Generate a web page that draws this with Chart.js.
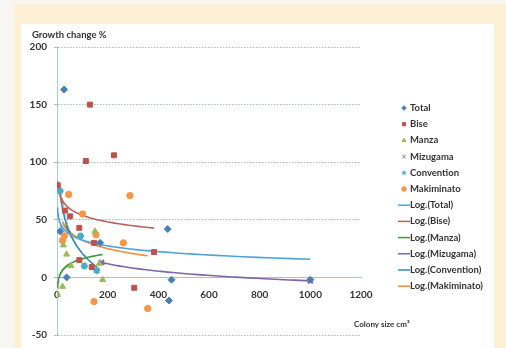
<!DOCTYPE html>
<html>
<head>
<meta charset="utf-8">
<script src="https://cdn.jsdelivr.net/npm/chart.js@4.4.0/dist/chart.umd.min.js"></script>
<style>
  html, body { margin: 0; padding: 0; }
  body { width: 506px; height: 348px; background: #f8f6f0; position: relative; overflow: hidden; }
  #frame { position: absolute; left: 14px; top: 4px; right: 0; bottom: 0; background: #fdf0d4; }
  #panel { position: absolute; left: 21px; top: 24px; width: 473px; bottom: 0; background: #fff; }
  #wrap { position: absolute; left: 0; top: 0; width: 506px; height: 348px; }
</style>
</head>
<body>
<div id="frame"></div>
<div id="panel"></div>
<div id="wrap"><canvas id="chart"></canvas></div>
<script>
// --- data ---
const seriesNames = ['Total', 'Bise', 'Manza', 'Mizugama', 'Convention', 'Makiminato'];

const totalX = [28, 12, 437, 170, 38, 452, 442, 1000];
const totalY = [163, 40, 42, 30, 0, -2, -20, -2];

const biseX = [3, 31, 51, 88, 114, 130, 225, 146, 383, 88, 137, 305];
const biseY = [80, 58, 53, 43, 101, 150, 106, 30, 22, 15, 9, -9];

const manzaX = [150, 25, 38, 55, 22, 180, 2, 167];
const manzaY = [40, 28, 20, 10, -8, -2, -15, 12];

const mizugamaX = [176, 1000];
const mizugamaY = [13, -3];

const conventionX = [12, 93, 108, 157];
const conventionY = [75, 36, 10, 6];

const makiminatoX = [46, 101, 288, 154, 29, 22, 262, 146, 358];
const makiminatoY = [72, 55, 71, 37, 36, 32, 30, -21, -27];

const xTicks = [0, 200, 400, 600, 800, 1000, 1200];
const yTicks = [-50, 0, 50, 100, 150, 200];

// styles
const pointColors = ['#4a7ebb', '#c0504d', '#9bbb59', '#8064a2', '#4bacc6', '#f79646'];
const pointStyles = ['rectRot', 'rect', 'triangle', 'crossRot', 'star', 'circle'];
const trendColors = ['#4ea3dc', '#b8625f', '#3f9a3f', '#7d66aa', '#2f8db5', '#f28e3a'];

const allX = totalX.concat(biseX, manzaX, mizugamaX, conventionX, makiminatoX);
const allY = totalY.concat(biseY, manzaY, mizugamaY, conventionY, makiminatoY);

// logarithmic least-squares trend, like the spreadsheet's Log. trendline
function logFit(xs, ys) {
    const lx = xs.map(Math.log);
    const n = xs.length;
    const mx = lx.reduce((a, b) => a + b, 0) / n;
    const my = ys.reduce((a, b) => a + b, 0) / n;
    let sxy = 0, sxx = 0;
    lx.forEach((v, i) => { sxy += (v - mx) * (ys[i] - my); sxx += (v - mx) * (v - mx); });
    const b = sxy / sxx;
    return { a: my - b * mx, b };
}

function trendPoints(xs, ys, rangeX) {
    const fit = logFit(xs, ys);
    const lo = Math.min(...rangeX), hi = Math.max(...rangeX);
    const pts = [];
    for (let i = 0; i <= 80; i++) {
        const x = lo * Math.pow(hi / lo, i / 80);
        pts.push({ x, y: fit.a + fit.b * Math.log(x) });
    }
    return pts;
}

const toPts = (xs, ys) => xs.map((x, i) => ({ x, y: ys[i] }));

const seriesX = [totalX, biseX, manzaX, mizugamaX, conventionX, makiminatoX];
const seriesY = [totalY, biseY, manzaY, mizugamaY, conventionY, makiminatoY];

const pointSets = seriesNames.map((name, i) => ({
    label: name,
    data: toPts(seriesX[i], seriesY[i]),
    pointStyle: pointStyles[i],
    backgroundColor: pointColors[i],
    borderColor: pointColors[i],
    borderWidth: (i === 3 || i === 4) ? 2 : 1,
    pointRadius: i === 5 ? 3.2 : 3.5,
    showLine: false
}));

const trendSets = seriesNames.map((name, i) => ({
    label: 'Log.(' + name + ')',
    data: i === 0 ? trendPoints(allX, allY, allX) : trendPoints(seriesX[i], seriesY[i], seriesX[i]),
    borderColor: trendColors[i],
    backgroundColor: trendColors[i],
    borderWidth: 1.6,
    pointRadius: 0,
    showLine: true,
    tension: 0
}));

// legend + axis titles drawn on the canvas
const sideLegend = {
    id: 'sideLegend',
    afterDraw(chart) {
        const ctx = chart.ctx;
        ctx.save();
        ctx.textBaseline = 'middle';
        ctx.textAlign = 'left';
        ctx.font = 'bold 9.5px Lato';
        chart.data.datasets.forEach((ds, i) => {
            const y = 108 + i * 16.2;
            if (ds.showLine) {
                ctx.strokeStyle = ds.borderColor;
                ctx.lineWidth = 1.5;
                ctx.beginPath();
                ctx.moveTo(398, y);
                ctx.lineTo(410, y);
                ctx.stroke();
            } else {
                ctx.fillStyle = ds.backgroundColor;
                ctx.strokeStyle = ds.borderColor;
                ctx.lineWidth = 1;
                Chart.helpers.drawPoint(ctx, { pointStyle: ds.pointStyle, radius: 2.3, borderWidth: 1, rotation: 0 }, 404, y);
            }
            ctx.fillStyle = '#333';
            ctx.fillText(ds.label, 410, y);
        });
        ctx.font = 'bold 9.5px Lato';
        ctx.fillText('Growth change %', 32, 35);
        ctx.font = 'bold 8px Lato';
        ctx.fillText('Colony size cm\u00B2', 354, 324);
        ctx.restore();
    }
};

new Chart(document.getElementById('chart'), {
    type: 'scatter',
    data: { datasets: pointSets.concat(trendSets) },
    options: {
        responsive: true,
        maintainAspectRatio: false,
        animation: false,
        layout: { padding: { left: 27, right: 145, top: 47, bottom: 6 } },
        plugins: { legend: { display: false }, tooltip: { enabled: false } },
        scales: {
            x: {
                type: 'linear',
                position: { y: 0 },
                min: xTicks[0],
                max: xTicks[xTicks.length - 1],
                afterBuildTicks: (s) => { s.ticks = xTicks.map(v => ({ value: v })); },
                grid: { display: false, tickLength: 8 },
                border: { display: true, color: '#a6c0d4', width: 1 },
                ticks: {
                    padding: 3, color: '#333', maxRotation: 0,
                    font: { family: 'Lato', size: 10, weight: 'bold' },
                    callback: (v) => String(v)
                }
            },
            y: {
                min: yTicks[0],
                max: yTicks[yTicks.length - 1],
                afterBuildTicks: (s) => { s.ticks = yTicks.map(v => ({ value: v })); },
                afterFit: (s) => { s.width = 30; },
                grid: { color: '#a3b8c9', lineWidth: 1, tickLength: 3 },
                border: { display: true, color: '#a6cde2', width: 1, dash: [1.5, 1.5] },
                ticks: {
                    padding: 7, color: '#333',
                    font: { family: 'Lato', size: 10, weight: 'bold' },
                    callback: (v) => String(v)
                }
            }
        }
    },
    plugins: [sideLegend]
});
</script>
</body>
</html>
